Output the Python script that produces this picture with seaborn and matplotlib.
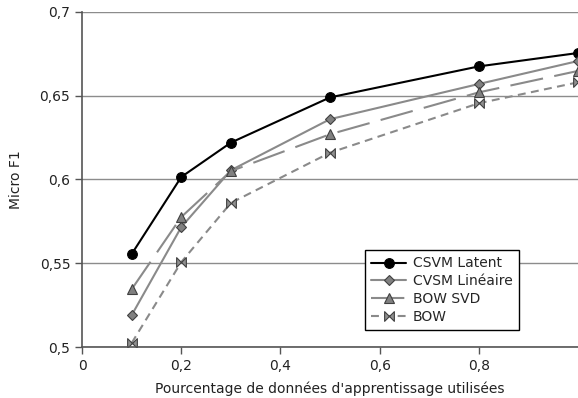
import matplotlib
matplotlib.use("Agg")
import matplotlib.pyplot as plt
from matplotlib.path import Path
from matplotlib.ticker import FuncFormatter
import pandas as pd
import seaborn as sns

# Donnees
fractions = [0.1, 0.2, 0.3, 0.5, 0.8, 1.0]
csvm_latent = [0.5555, 0.6015, 0.622, 0.649, 0.6675, 0.6755]
cvsm_lineaire = [0.519, 0.5716, 0.6055, 0.636, 0.657, 0.6707]
bow_svd = [0.5345, 0.5776, 0.605, 0.627, 0.652, 0.6648]
bow = [0.5024, 0.5507, 0.586, 0.616, 0.6455, 0.658]
series_names = ["CSVM Latent", "CVSM Linéaire", "BOW SVD", "BOW"]

x_ticks = [0, 0.2, 0.4, 0.6, 0.8]
y_ticks = [0.5, 0.55, 0.6, 0.65, 0.7]

sns.set_theme(style="white")
plt.rcParams["font.family"] = ["DejaVu Sans"]

# marqueur "noeud papillon" pour BOW
bowtie = Path([(-1, 1), (1, -1), (1, 1), (-1, -1), (-1, 1)],
              [Path.MOVETO, Path.LINETO, Path.LINETO, Path.LINETO, Path.CLOSEPOLY])

styles = {
    "CSVM Latent": dict(color="black", marker="o", markersize=7, mfc="black", mec="black", dashes=()),
    "CVSM Linéaire": dict(color="#8a8a8a", marker="D", markersize=4.8, mfc="#808080", mec="#404040", dashes=()),
    "BOW SVD": dict(color="#8a8a8a", marker="^", markersize=7, mfc="#808080", mec="#404040", dashes=(16, 5.5)),
    "BOW": dict(color="#8a8a8a", marker=bowtie, markersize=7, mfc="#909090", mec="#404040", dashes=(3.8, 2.6)),
}

df = pd.DataFrame({
    "x": fractions * 4,
    "y": csvm_latent + cvsm_lineaire + bow_svd + bow,
    "serie": sum([[n] * len(fractions) for n in series_names], []),
})

fig = plt.figure(figsize=(5.78, 3.98), dpi=100)
ax = fig.add_axes([0.142, 0.128, 0.858, 0.842])

for name in series_names:
    st = styles[name]
    sub = df[df["serie"] == name]
    sns.lineplot(x="x", y="y", data=sub, ax=ax, color=st["color"], linewidth=1.5,
                 marker=st["marker"], markersize=st["markersize"],
                 markerfacecolor=st["mfc"], markeredgecolor=st["mec"], markeredgewidth=0.8,
                 label=name)
    if st["dashes"]:
        ax.lines[-1].set_dashes(st["dashes"])

ax.set_xlim(0, 1.0)
ax.set_ylim(0.5, 0.7)
ax.set_xticks(x_ticks)
ax.set_yticks(y_ticks)
fmt = FuncFormatter(lambda v, p: f"{v:g}".replace(".", ","))
ax.xaxis.set_major_formatter(fmt)
ax.yaxis.set_major_formatter(fmt)

ax.yaxis.grid(True, color="#8c8c8c", linewidth=1)
ax.set_axisbelow(True)
for s in ["top", "right"]:
    ax.spines[s].set_visible(False)
for s in ["left", "bottom"]:
    ax.spines[s].set_color("#555555")
    ax.spines[s].set_linewidth(1.2)
ax.axhline(0.7, color="#c0c0c0", linewidth=1.5, zorder=0)

ax.tick_params(axis="both", direction="out", length=5, width=1, color="#555555",
               labelsize=10, labelcolor="#222222", left=True, bottom=True)
ax.set_xlabel("Pourcentage de données d'apprentissage utilisées", fontsize=10, color="#222222", labelpad=6)
ax.set_ylabel("Micro F1", fontsize=10, color="#222222", labelpad=12)

leg = ax.legend(loc="lower right", bbox_to_anchor=(0.881, 0.05), fontsize=10, frameon=True,
                fancybox=False, edgecolor="black", framealpha=1, handlelength=2.5,
                borderpad=0.45, labelspacing=0.28, handletextpad=0.5, borderaxespad=0)
leg.get_frame().set_linewidth(1)

fig.savefig("out.png", dpi=100)
